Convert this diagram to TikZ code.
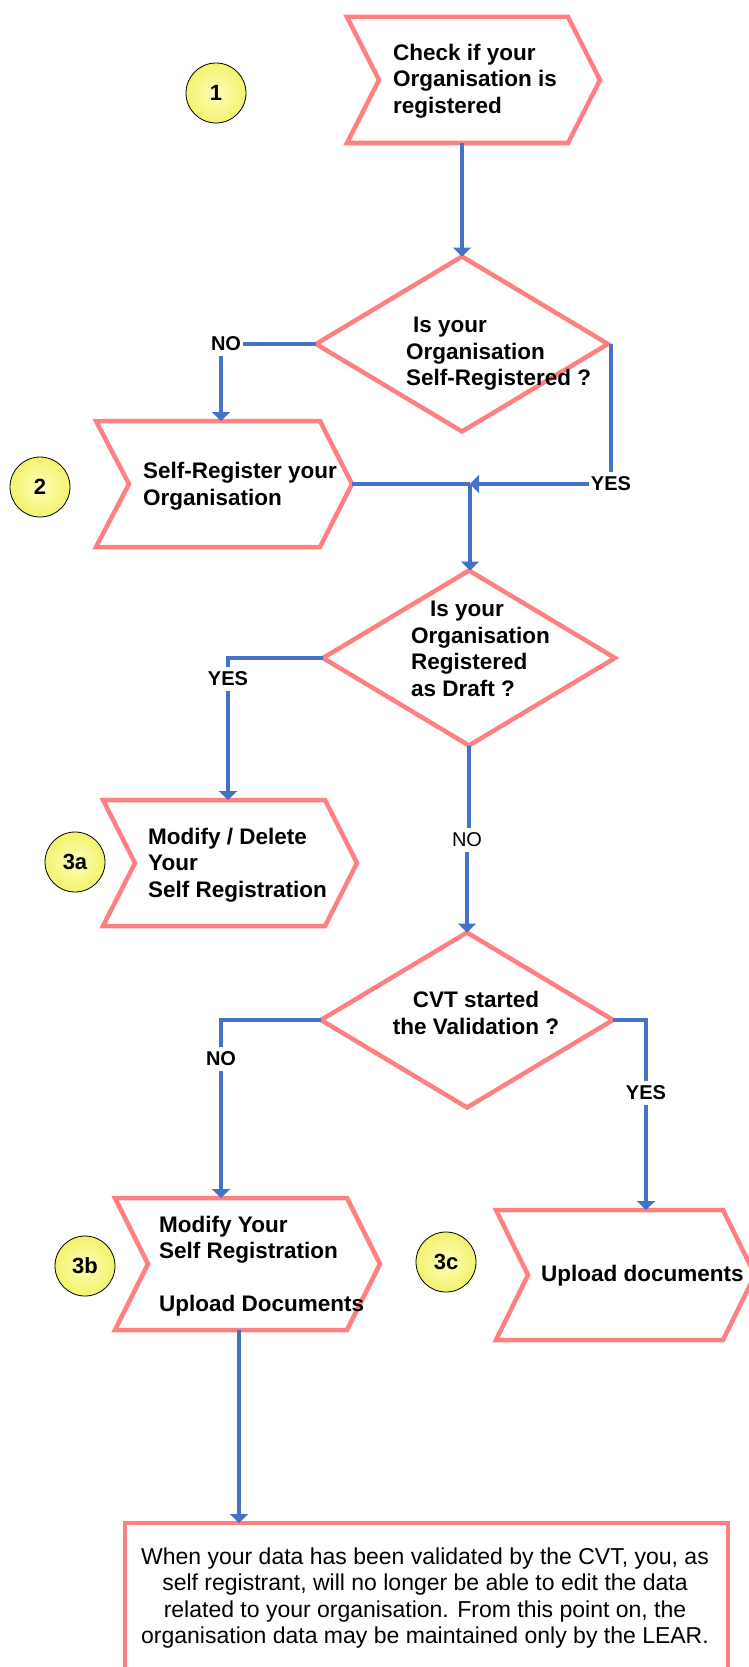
\documentclass[tikz,border=0pt]{standalone}
\usepackage{fontspec}
\setmainfont{Liberation Sans}
\usetikzlibrary{arrows.meta,shapes.geometric}
\definecolor{pinkline}{RGB}{255,128,128}
\definecolor{blueline}{RGB}{68,114,196}
\definecolor{ballin}{RGB}{255,255,185}
\definecolor{ballout}{RGB}{242,242,110}
\begin{document}
\begin{tikzpicture}[x=1pt,y=-1pt,
  shapeline/.style={draw=pinkline, line width=4.5pt},
  dia/.style={diamond, shapeline, minimum width=292pt, minimum height=175pt, inner sep=0pt, outer sep=0pt},
  conn/.style={draw=blueline, line width=4pt},
  arr/.style={conn, -{Triangle[length=9pt,width=18pt]}},
  num/.style={circle, draw=black, line width=0.8pt, inner sep=0pt, minimum size=60pt, inner color=ballin, outer color=ballout, font=\bfseries\fontsize{22}{26}\selectfont},
  txt/.style={inner sep=0pt, font=\bfseries\fontsize{22.5}{26.5}\selectfont},
  lab/.style={inner xsep=2pt, inner ysep=5pt, font=\bfseries\fontsize{20}{24}\selectfont},
  labreg/.style={inner xsep=2pt, inner ysep=5pt, font=\fontsize{20}{24}\selectfont},
  note/.style={inner sep=0pt, align=center, font=\fontsize{23}{26.5}\selectfont}
]
\useasboundingbox (0,0) rectangle (749,1667);
\clip (0,0) rectangle (749,1667);

% chevron shapes
\draw[shapeline] (347,17) -- (568,17) -- (600,80) -- (568,143) -- (347,143) -- (379,80) -- cycle;
\draw[shapeline] (96,421) -- (320,421) -- (352,484) -- (320,547) -- (96,547) -- (129,484) -- cycle;
\draw[shapeline] (103,800) -- (325,800) -- (357,863) -- (325,926) -- (103,926) -- (135,863) -- cycle;
\draw[shapeline] (115,1198) -- (347,1198) -- (380,1264) -- (347,1330) -- (115,1330) -- (148,1264) -- cycle;
\draw[shapeline] (496,1210) -- (723,1210) -- (755,1275) -- (723,1340) -- (496,1340) -- (528,1275) -- cycle;

% decisions
\node[dia] (d1) at (462,344) {};
\node[dia] (d2) at (469,658) {};
\node[dia] (d3) at (467,1020) {};

% final note box
\node[draw=pinkline, line width=4.5pt, anchor=north west, minimum width=603pt, minimum height=200pt, inner sep=0pt, outer sep=0pt] (bx) at (125,1523) {};

% connector anchors
\coordinate (c1s) at (462,143);
\coordinate (c2n) at (221,421);
\coordinate (c2e) at (352,484);
\coordinate (j1) at (470,484);
\coordinate (c3an) at (228,800);
\coordinate (c3bn) at (221,1198);
\coordinate (c3bs) at (239,1330);
\coordinate (c3cn) at (646,1210);

% step numbers
\node[num] (n1) at (216,93) {1};
\node[num] (n2) at (40,487) {2};
\node[num] (n3a) at (75,862) {3a};
\node[num] (n3b) at (85,1266) {3b};
\node[num] (n3c) at (446,1262) {3c};

% branch labels
\node[lab] (no1) at (226,344) {NO};
\node[lab] (yes1) at (611,484) {YES};
\node[lab] (yes2) at (228,679) {YES};
\node[labreg] (no2) at (467,840) {NO};
\node[lab] (no3) at (221,1059) {NO};
\node[lab] (yes3) at (646,1093) {YES};

% connectors
\draw[arr] (c1s) -- (c1s |- d1.north);
\draw[conn] (d1.west) -- (no1.east);
\draw[arr] (no1.south -| c2n) -- (c2n);
\draw[conn] (d1.east -| yes1) -- (yes1.north);
\draw[arr] (yes1.west) -- (j1);
\draw[conn] (c2e) -- (j1);
\draw[arr] (j1) -- (j1 |- d2.north);
\draw[conn] (d2.west) -| (yes2.north);
\draw[arr] (yes2.south) -- (c3an);
\draw[conn] (d2.south) -- (d2.south |- no2.north);
\draw[arr] (no2.south -| d3.north) -- (d3.north);
\draw[conn] (d3.west) -| (no3.north);
\draw[arr] (no3.south) -- (c3bn);
\draw[conn] (d3.east) -| (yes3.north);
\draw[arr] (yes3.south) -- (c3cn);
\draw[arr] (c3bs) -- (c3bs |- bx.north);

% texts
\node[txt, align=left, anchor=west] (t1) at (393,81) {Check if your\\Organisation is\\registered};
\node[txt, align=left, anchor=west] (td1) at (406,354) {\hspace*{7pt}Is your\\Organisation\\Self-Registered ?};
\node[txt, align=left, anchor=west] (t2) at (143,486) {Self-Register your\\Organisation};
\node[txt, align=left, anchor=west] (td2) at (411,649) {\hspace*{19pt}Is your\\Organisation\\Registered\\as Draft ?};
\node[txt, align=left, anchor=west] (t3a) at (148,865) {Modify / Delete\\Your\\Self Registration};
\node[txt, align=center] (td3) at (476,1013) {CVT started\\the Validation ?};
\node[txt, align=left, anchor=west] (t3b) at (159,1266) {Modify Your\\Self Registration\\[26.5pt]Upload Documents};
\node[txt, anchor=west] (t3c) at (541,1276) {Upload documents};
\node[note] (tbx) at (425,1598) {When your data has been validated by the CVT, you, as\\self registrant, will no longer be able to edit the data\\related to your organisation. From this point on, the\\organisation data may be maintained only by the LEAR.};
\end{tikzpicture}
\end{document}
